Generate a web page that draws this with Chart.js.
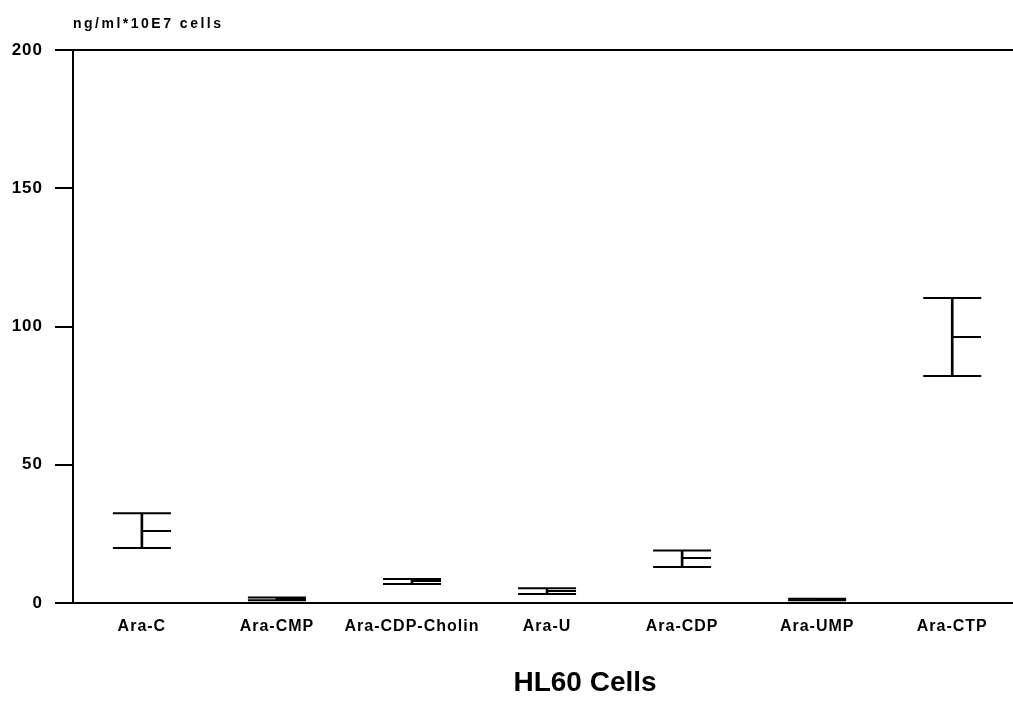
<!DOCTYPE html>
<html lang="en">
<head>
    <meta charset="UTF-8">
    <title>HL60 Cells</title>
    <script src="https://cdn.jsdelivr.net/npm/chart.js"></script>
    <style>
        html, body { margin: 0; padding: 0; background: #fff; }
        #wrap { width: 1013px; height: 706px; }
    </style>
</head>
<body>
    <div id="wrap"><canvas id="myChart" width="1013" height="706"></canvas></div>

    <script>
        // data
        const categories = ['Ara-C', 'Ara-CMP', 'Ara-CDP-Cholin', 'Ara-U', 'Ara-CDP', 'Ara-UMP', 'Ara-CTP'];
        const highValues = [32.5, 2.0, 8.7, 5.3, 19.0, 1.5, 110.3];
        const meanValues = [26.0, 1.5, 8.0, 4.3, 16.3, 1.2, 96.2];
        const lowValues  = [19.9, 1.0, 6.9, 3.3, 13.0, 1.0, 82.1];
        const yTicks = [0, 50, 100, 150, 200];

        const FONT = '"Liberation Sans", Arial, sans-serif';

        // mean marker: line only on the right half of the cap
        const meanMark = document.createElement('canvas');
        meanMark.width = 58;
        meanMark.height = 2;
        const mctx = meanMark.getContext('2d');
        mctx.fillStyle = '#000';
        mctx.fillRect(29, 0, 29, 2);

        const toPoints = arr => arr.map((v, i) => ({ x: i, y: v }));

        // the printed labels are slightly spaced out
        const spacing = {
            id: 'spacing',
            beforeUpdate(chart) { chart.ctx.letterSpacing = '1px'; },
            beforeDraw(chart) { chart.ctx.letterSpacing = '1px'; }
        };

        // axis captions drawn as text
        const captions = {
            id: 'captions',
            afterDraw(chart) {
                const ctx = chart.ctx;
                const area = chart.chartArea;
                ctx.save();
                ctx.fillStyle = '#000';
                ctx.font = 'bold 14px ' + FONT;
                ctx.letterSpacing = '2.5px';
                ctx.textAlign = 'left';
                ctx.textBaseline = 'alphabetic';
                ctx.fillText('ng/ml*10E7 cells', area.left, 28);
                ctx.letterSpacing = '0px';
                ctx.font = 'bold 28px ' + FONT;
                ctx.textAlign = 'center';
                ctx.textBaseline = 'middle';
                ctx.fillText('HL60 Cells', 585, 683);
                ctx.restore();
            }
        };

        new Chart(document.getElementById('myChart'), {
            data: {
                datasets: [
                    {
                        type: 'bar',
                        data: categories.map((c, i) => ({ x: i, y: [lowValues[i], highValues[i]] })),
                        backgroundColor: '#000',
                        borderWidth: 0,
                        barThickness: 2
                    },
                    {
                        type: 'scatter',
                        data: toPoints(highValues),
                        pointStyle: 'line',
                        pointRadius: 29,
                        borderColor: '#000',
                        borderWidth: 2
                    },
                    {
                        type: 'scatter',
                        data: toPoints(lowValues),
                        pointStyle: 'line',
                        pointRadius: 29,
                        borderColor: '#000',
                        borderWidth: 2
                    },
                    {
                        type: 'scatter',
                        data: toPoints(meanValues),
                        pointStyle: meanMark,
                        pointRadius: 29
                    }
                ]
            },
            options: {
                responsive: false,
                animation: false,
                layout: { autoPadding: false, padding: { top: 50, right: 0, left: 0, bottom: 0 } },
                plugins: {
                    legend: { display: false },
                    tooltip: { enabled: false }
                },
                scales: {
                    x: {
                        type: 'linear',
                        offset: false,
                        min: -0.51,
                        max: 6.45,
                        afterBuildTicks: s => { s.ticks = categories.map((c, i) => ({ value: i })); },
                        afterFit: s => { s.height = 103; s.paddingLeft = 0; s.paddingRight = 0; },
                        grid: { display: false, drawTicks: false, offset: false },
                        border: { display: true, color: '#000', width: 2 },
                        ticks: {
                            autoSkip: false,
                            maxRotation: 0,
                            padding: 14,
                            color: '#000',
                            font: { family: FONT, size: 16, weight: 'bold' },
                            callback: v => categories[v]
                        }
                    },
                    y: {
                        min: 0,
                        max: 200,
                        afterBuildTicks: s => { s.ticks = yTicks.map(v => ({ value: v })); },
                        afterFit: s => { s.width = 73; s.paddingTop = 0; s.paddingBottom = 0; },
                        grid: {
                            drawOnChartArea: true,
                            color: c => (c.tick && c.tick.value === 200 ? '#000' : 'rgba(0,0,0,0)'),
                            lineWidth: 2,
                            tickColor: '#000',
                            tickLength: 18,
                            tickWidth: 2
                        },
                        border: { display: true, color: '#000', width: 2 },
                        ticks: {
                            padding: 12,
                            color: '#000',
                            font: { family: FONT, size: 17, weight: 'bold' }
                        }
                    }
                }
            },
            plugins: [spacing, captions]
        });
    </script>
</body>
</html>
